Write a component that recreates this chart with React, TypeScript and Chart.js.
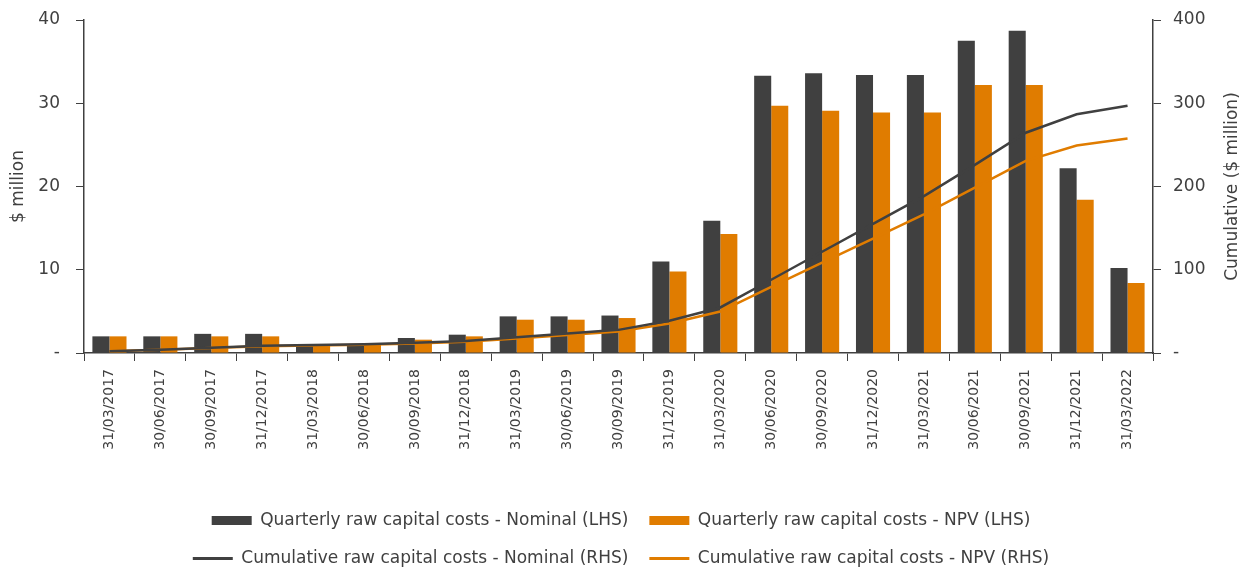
import React, { useEffect, useRef } from 'react';
import { Chart, registerables } from 'chart.js';

Chart.register(...registerables);

const categories = [
  '31/03/2017', '30/06/2017', '30/09/2017', '31/12/2017',
  '31/03/2018', '30/06/2018', '30/09/2018', '31/12/2018',
  '31/03/2019', '30/06/2019', '30/09/2019', '31/12/2019',
  '31/03/2020', '30/06/2020', '30/09/2020', '31/12/2020',
  '31/03/2021', '30/06/2021', '30/09/2021', '31/12/2021',
  '31/03/2022',
];

const quarterlyNominal = [2.0, 2.0, 2.3, 2.3, 0.9, 1.0, 1.8, 2.2, 4.4, 4.4, 4.5, 11.0, 15.9, 33.3, 33.6, 33.4, 33.4, 37.5, 38.7, 22.2, 10.2];
const quarterlyNPV = [2.0, 2.0, 2.0, 2.0, 0.9, 1.0, 1.6, 2.0, 4.0, 4.0, 4.2, 9.8, 14.3, 29.7, 29.1, 28.9, 28.9, 32.2, 32.2, 18.4, 8.4];
const cumulativeNominal = [2.0, 4.0, 6.3, 8.6, 9.5, 10.5, 12.3, 14.5, 18.9, 23.3, 27.8, 38.8, 54.7, 88.0, 121.6, 155.0, 188.4, 225.9, 264.6, 286.8, 297.0];
const cumulativeNPV = [2.0, 4.0, 6.0, 8.0, 8.9, 9.9, 11.5, 13.5, 17.5, 21.5, 25.7, 35.5, 49.8, 79.5, 108.6, 137.5, 166.4, 198.6, 230.8, 249.2, 257.6];

const leftTicks = [0, 10, 20, 30, 40];
const rightTicks = [0, 100, 200, 300, 400];

const seriesLabels = [
  'Quarterly raw capital costs - Nominal (LHS)',
  'Quarterly raw capital costs - NPV (LHS)',
  'Cumulative raw capital costs - Nominal (RHS)',
  'Cumulative raw capital costs - NPV (RHS)',
];

const rightTitle = 'Cumulative ($ million)';

const DARK = '#404040';
const ORANGE = '#E07C00';
const TEXT = '#404040';
const FONT = 'DejaVu Sans';

const rightTitlePlugin = {
  id: 'rightTitle',
  afterDraw(chart: any) {
    const ctx = chart.ctx;
    const area = chart.chartArea;
    const s = chart.scales.y1;
    ctx.save();
    ctx.translate(s.right - 9, (area.top + area.bottom) / 2);
    ctx.rotate(-Math.PI / 2);
    ctx.font = `17px "${FONT}"`;
    ctx.fillStyle = TEXT;
    ctx.textAlign = 'center';
    ctx.textBaseline = 'middle';
    ctx.fillText(rightTitle, 0, 0);
    ctx.restore();
  },
};

export default function App() {
  const ref = useRef<HTMLCanvasElement>(null);

  useEffect(() => {
    document.body.style.margin = '0';
    document.body.style.overflow = 'hidden';
    Chart.defaults.font.family = FONT;
    Chart.defaults.font.size = 17;
    Chart.defaults.color = TEXT;

    const tickFmt = (v: any) => (Number(v) === 0 ? '-' : String(v));

    const chart = new Chart(ref.current as HTMLCanvasElement, {
      type: 'bar',
      data: {
        labels: categories,
        datasets: [
          {
            type: 'bar',
            label: seriesLabels[0],
            data: quarterlyNominal,
            backgroundColor: DARK,
            yAxisID: 'y',
            order: 2,
            barPercentage: 1.0,
            categoryPercentage: 0.67,
          },
          {
            type: 'bar',
            label: seriesLabels[1],
            data: quarterlyNPV,
            backgroundColor: ORANGE,
            yAxisID: 'y',
            order: 2,
            barPercentage: 1.0,
            categoryPercentage: 0.67,
          },
          {
            type: 'line',
            label: seriesLabels[2],
            data: cumulativeNominal,
            borderColor: DARK,
            backgroundColor: DARK,
            borderWidth: 2.5,
            pointRadius: 0,
            tension: 0,
            yAxisID: 'y1',
            order: 1,
          },
          {
            type: 'line',
            label: seriesLabels[3],
            data: cumulativeNPV,
            borderColor: ORANGE,
            backgroundColor: ORANGE,
            borderWidth: 2.5,
            pointRadius: 0,
            tension: 0,
            yAxisID: 'y1',
            order: 1,
          },
        ] as any,
      },
      options: {
        responsive: false,
        animation: false,
        layout: { padding: { top: 20, bottom: -9, left: 0, right: 0 } },
        plugins: {
          tooltip: { enabled: false },
          legend: {
            position: 'bottom',
            labels: {
              usePointStyle: true,
              pointStyleWidth: 40,
              boxHeight: 9,
              padding: 21,
              color: TEXT,
              font: { family: FONT, size: 17 },
              generateLabels: (c: any) => {
                const items = (Chart.defaults.plugins.legend.labels as any).generateLabels(c);
                items.forEach((it: any) => {
                  const ds: any = c.data.datasets[it.datasetIndex];
                  if (ds.type === 'line') {
                    it.pointStyle = 'line';
                    it.lineWidth = 3;
                    it.strokeStyle = ds.borderColor;
                    it.fillStyle = ds.borderColor;
                  } else {
                    it.pointStyle = 'rect';
                    it.lineWidth = 0;
                    it.fillStyle = ds.backgroundColor;
                    it.strokeStyle = ds.backgroundColor;
                  }
                });
                return items.sort((a: any, b: any) => a.datasetIndex - b.datasetIndex);
              },
            },
          },
        },
        scales: {
          x: {
            grid: { drawOnChartArea: false, drawTicks: true, tickLength: 8, color: DARK, offset: true },
            border: { display: true, color: DARK, width: 1.5 },
            ticks: { autoSkip: false, minRotation: 90, maxRotation: 90, padding: 8, color: TEXT, font: { family: FONT, size: 14 } },
            afterFit: (s: any) => { s.height = 138; },
          },
          y: {
            position: 'left',
            min: leftTicks[0],
            max: leftTicks[leftTicks.length - 1],
            afterBuildTicks: (s: any) => { s.ticks = leftTicks.map((v) => ({ value: v })); },
            ticks: { callback: tickFmt, padding: 16, color: TEXT, font: { family: FONT, size: 17 } },
            grid: { drawOnChartArea: false, drawTicks: true, tickLength: 8, color: DARK },
            border: { display: true, color: DARK, width: 1.5 },
            title: { display: true, text: '$ million', color: TEXT, font: { family: FONT, size: 17 }, padding: { top: 8, bottom: 0 } },
            afterFit: (s: any) => { s.width = 84; s.paddingTop = 0; s.paddingBottom = 0; },
          },
          y1: {
            position: 'right',
            min: rightTicks[0],
            max: rightTicks[rightTicks.length - 1],
            afterBuildTicks: (s: any) => { s.ticks = rightTicks.map((v) => ({ value: v })); },
            ticks: { callback: tickFmt, padding: 12, color: TEXT, font: { family: FONT, size: 17 } },
            grid: { drawOnChartArea: false, drawTicks: true, tickLength: 8, color: DARK },
            border: { display: true, color: DARK, width: 1.5 },
            afterFit: (s: any) => { s.width = 89; s.paddingTop = 0; s.paddingBottom = 0; },
          },
        },
      } as any,
      plugins: [rightTitlePlugin],
    });

    return () => chart.destroy();
  }, []);

  return (
    <div style={{ width: 1242, height: 568, position: 'relative' }}>
      <canvas ref={ref} width={1242} height={568} style={{ display: 'block' }} />
    </div>
  );
}
